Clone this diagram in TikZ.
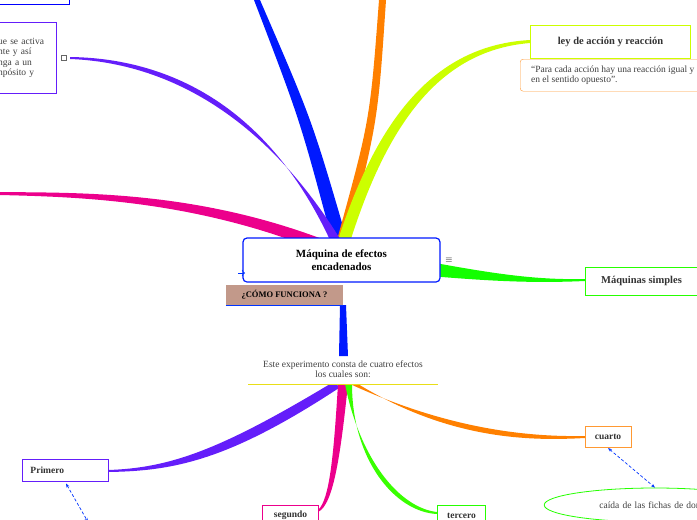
\documentclass[tikz,border=0pt]{standalone}
\usepackage{fontspec}
\setmainfont{Liberation Serif}
\usepackage{amssymb}
\usetikzlibrary{shapes.geometric,arrows.meta}
\definecolor{purp}{RGB}{100,30,250}
\tikzstyle{bag} = [draw, fill=white, line width=1pt, inner sep=3pt, font=\fontsize{9.5}{10}\selectfont\bfseries, text=black!80]
\tikzstyle{note} = [font=\fontsize{9.5}{10.5}\selectfont, text=black!75, align=left]
\tikzstyle{link} = [blue!80!cyan, densely dashed, line width=0.7pt, {Stealth[length=4pt]}-{Stealth[length=4pt]}]

\begin{document}
\begin{tikzpicture}[x=1pt,y=-1pt]
  \useasboundingbox (0,0) rectangle (697,520);
  % upper branches
  \fill[blue!90!cyan] (332,240) .. controls (300,120) .. (254,0) -- (260,0) .. controls (312,120) .. (347,240) -- cycle;
  \fill[orange] (337,240) .. controls (370,120) .. (379,0) -- (386,0) .. controls (378,120) .. (348,240) -- cycle;
  \fill[lime!80!yellow] (338,240) .. controls (380,110) and (440,45) .. (530,40) -- (530,43) .. controls (445,50) and (390,115) .. (350,242) -- cycle;
  \fill[purp] (330,240) .. controls (260,90) and (150,58) .. (70,57) -- (70,59) .. controls (150,62) and (255,100) .. (342,242) -- cycle;
  \fill[magenta] (335,244) .. controls (200,190) and (80,193) .. (0,192) -- (0,195) .. controls (80,197) and (200,200) .. (332,256) -- cycle;
  \fill[green!90!lime] (430,262) .. controls (500,275) and (540,280) .. (585,279) -- (585,281) .. controls (540,283) and (500,282) .. (430,276) -- cycle;
  \fill[blue!90!cyan] (340,305) -- (346,305) -- (348,356) -- (339,356) -- cycle;
  % lower branches
  \fill[purp] (330,384) .. controls (220,450) and (170,468) .. (108,470) -- (108,472) .. controls (175,471) and (230,460) .. (342,386) -- cycle;
  \fill[magenta] (338,384) .. controls (334,450) and (330,500) .. (318,510) -- (318,512) .. controls (334,505) and (341,450) .. (348,384) -- cycle;
  \fill[green!70!lime] (345,384) .. controls (360,460) and (400,508) .. (437,512) -- (437,514) .. controls (395,512) and (352,460) .. (352,384) -- cycle;
  \fill[orange] (350,384) .. controls (450,430) and (530,437) .. (585,436) -- (585,438) .. controls (530,441) and (450,440) .. (358,384) -- cycle;

  % nodes
  \node (top) [draw=blue, line width=1pt, minimum width=72pt, minimum height=8pt, anchor=south east] at (70,5) {};
  \node (prev) [draw=purp, line width=1pt, fill=white, anchor=north east, minimum height=71pt, text width=55pt, note] at (57,22) {ue se activa\\nte y así\\nga a un\\npósito y};
  \node (icon) [draw=black!60, fill=white, line width=0.5pt, minimum size=5pt, inner sep=0pt] at (64,58) {};
  \node (ley) [bag, draw=lime!80!yellow, anchor=north west, minimum width=160pt, minimum height=33pt, font=\fontsize{10.5}{11}\selectfont\bfseries] at (530,25) {ley de acción y reacción};
  \node (quote) [draw=orange!80, fill=white, rounded corners=3pt, anchor=north west, minimum width=185pt, minimum height=32pt, note] at (520,59) {“Para cada acción hay una reacción igual y\\en el sentido opuesto”.};
  \node (main) [draw=blue!90!cyan, fill=white, line width=1.2pt, rounded corners=4pt, minimum width=197pt, minimum height=44pt, align=center, font=\fontsize{11}{13}\selectfont\bfseries] at (341.5,260) {Máquina de efectos\\encadenados};
  \node (menu) [font=\small] at (449,260) {$\equiv$};
  \node (como) [fill=brown!40!gray!60!pink, minimum width=117pt, minimum height=20pt, font=\fontsize{8.5}{9}\selectfont\bfseries] at (284.5,295) {¿CÓMO FUNCIONA ?};
  \draw[blue!80!cyan, line width=0.8pt] (como.south west) -- (como.south east);
  \node (simples) [bag, draw=green!80!lime, anchor=west, minimum width=112pt, minimum height=28pt, font=\fontsize{10.5}{11}\selectfont\bfseries] at (585,281) {Máquinas simples};
  \node (efectos) [note, align=center] at (343,369) {Este experimento consta de cuatro efectos\\los cuales son:};
  \draw[yellow!90!black, line width=0.8pt] (248,384) -- (438,384);
  \node (primero) [bag, draw=purp, minimum width=86pt, minimum height=22pt, anchor=west, text width=70pt] at (22,470) {Primero};
  \node (segundo) [bag, draw=magenta, minimum width=56pt, minimum height=20pt, anchor=north west] at (262,505) {segundo};
  \node (tercero) [bag, draw=green!80!lime, minimum width=48pt, minimum height=20pt, anchor=north west] at (437,505) {tercero};
  \node (cuarto) [bag, draw=orange!80, minimum width=46pt, minimum height=21pt] at (608,437) {cuarto};
  \node (caida) [ellipse, draw=green!80!lime, fill=white, line width=0.8pt, minimum width=190pt, minimum height=34pt, note, align=center, text width=150pt] at (655,505) {caída de las fichas de domin};
  \coordinate (below) at (88,522);

  % links
  \draw[link] (primero.south west)+(44,2) -- (below);
  \draw[link] (cuarto.south) -- (caida.north);
  \draw[blue!80!cyan, line width=0.7pt, ->] (238,273) -- (245,273);
\end{tikzpicture}
\end{document}
